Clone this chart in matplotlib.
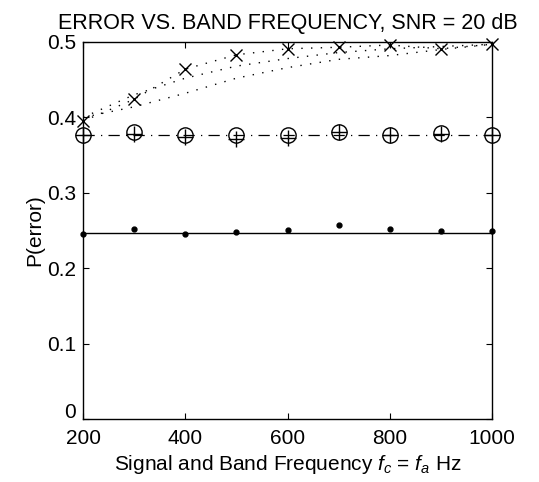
import numpy as np
import matplotlib
matplotlib.use('Agg')
import matplotlib.pyplot as plt
from matplotlib.transforms import ScaledTranslation

plt.rcParams['font.family'] = ['Liberation Sans', 'DejaVu Sans']
plt.rcParams['mathtext.fontset'] = 'custom'
plt.rcParams['mathtext.rm'] = 'Liberation Sans'
plt.rcParams['mathtext.it'] = 'Liberation Sans:italic'

# data
freq = [200, 300, 400, 500, 600, 700, 800, 900, 1000]

p_cross = [0.395, 0.424, 0.464, 0.483, 0.491, 0.493, 0.496, 0.491, 0.497]
p_dot_b = [0.400, 0.430, 0.452, 0.468, 0.478, 0.486, 0.491, 0.494, 0.497]
p_dot_c = [0.400, 0.414, 0.432, 0.452, 0.466, 0.477, 0.482, 0.490, 0.497]

p_circle = [0.376, 0.380, 0.376, 0.376, 0.377, 0.380, 0.377, 0.379, 0.377]
p_plus = [0.377, 0.378, 0.374, 0.371, 0.372, 0.380, 0.376, 0.378, 0.376]
p_circle_line = [0.377] * len(freq)

p_dots = [0.245, 0.2516, 0.2454, 0.248, 0.2507, 0.2569, 0.2524, 0.2497, 0.2497]
p_dots_line = [0.247] * len(freq)

fs = 15

fig = plt.figure(figsize=(5.39, 4.82), dpi=100)
ax = fig.add_axes([0.154, 0.1307, 0.759, 0.7822])

dotted = (0, (1, 6))

# top group, dotted curves
ax.plot(freq, p_cross, color='k', linestyle=dotted, linewidth=1.0,
        marker='x', markersize=8.5, markeredgewidth=1.0, clip_on=False)
ax.plot(freq, p_dot_b, color='k', linestyle=dotted, linewidth=1.0)
ax.plot(freq, p_dot_c, color='k', linestyle=dotted, linewidth=1.0)

# middle group
ax.plot(freq, p_circle_line, color='k', linestyle=(0, (9, 5, 1, 5)), linewidth=0.9)
ax.plot(freq, p_circle, linestyle='none', marker='o', markersize=11,
        markerfacecolor='none', markeredgecolor='k', markeredgewidth=1.0,
        clip_on=False)
ax.plot(freq, p_plus, linestyle='none', marker='+', markersize=11,
        markeredgecolor='k', markeredgewidth=1.0, clip_on=False)

# bottom group
ax.plot(freq, p_dots_line, color='k', linestyle='-', linewidth=1.0)
ax.plot(freq, p_dots, linestyle='none', marker='o', markersize=3.5, color='k',
        clip_on=False)

ax.set_xlim(200, 1000)
ax.set_ylim(0, 0.5)
ax.set_xticks([200, 400, 600, 800, 1000])
ax.set_yticks([0, 0.1, 0.2, 0.3, 0.4, 0.5])
ax.set_yticklabels(['0', '0.1', '0.2', '0.3', '0.4', '0.5'])
ax.tick_params(direction='in', length=4, width=0.8, top=True, right=True,
               labelsize=fs, colors='k')
ax.tick_params(axis='y', pad=5)
ax.tick_params(axis='x', pad=7)
for s in ax.spines.values():
    s.set_linewidth(1.0)

# the "0" label sits a little above the axis corner
zero = ax.get_yticklabels()[0]
zero.set_transform(zero.get_transform() + ScaledTranslation(0, 6 / 72, fig.dpi_scale_trans))

ax.set_title('ERROR VS. BAND FREQUENCY, SNR = 20 dB', fontsize=15.5, pad=9)
ax.set_xlabel(r'Signal and Band Frequency $f_c$ = $f_a$ Hz', fontsize=fs, labelpad=4)
ax.set_ylabel('P(error)', fontsize=fs, labelpad=2)

fig.savefig('out.png', dpi=100)
